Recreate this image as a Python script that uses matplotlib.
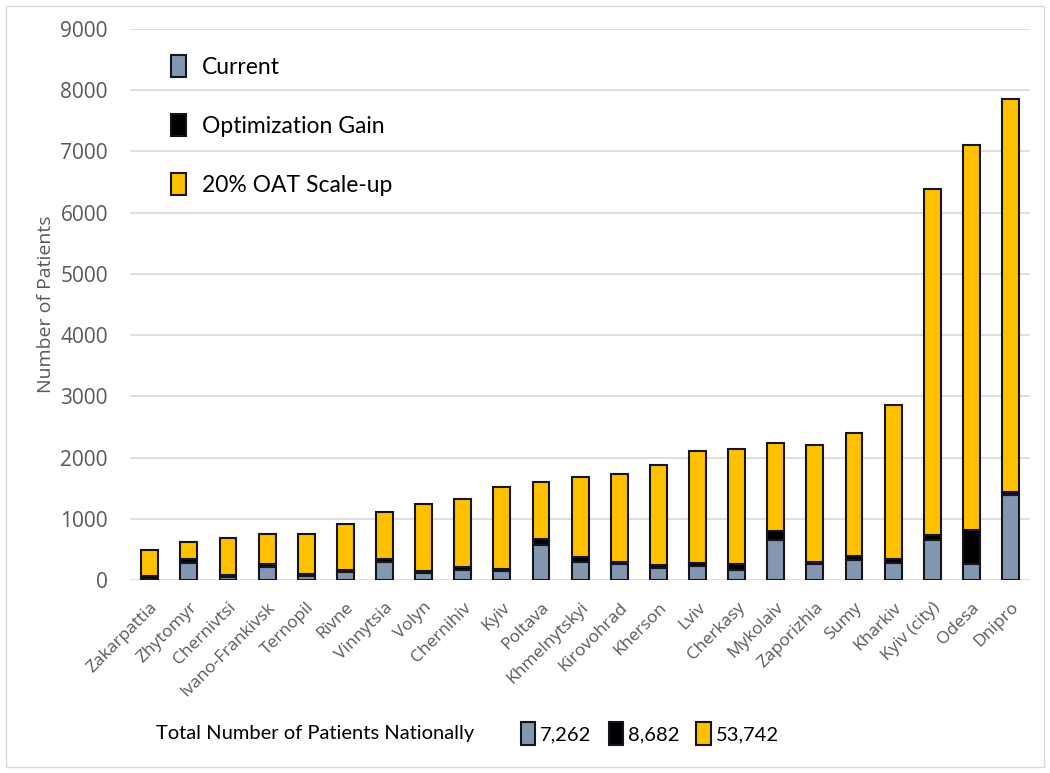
import matplotlib
matplotlib.use("Agg")
import numpy as np
import matplotlib.pyplot as plt
from matplotlib.patches import Patch, Rectangle

plt.rcParams['font.family'] = ['Open Sans', 'DejaVu Sans']

regions = ["Zakarpattia", "Zhytomyr", "Chernivtsi", "Ivano-Frankivsk", "Ternopil",
           "Rivne", "Vinnytsia", "Volyn", "Chernihiv", "Kyiv", "Poltava",
           "Khmelnytskyi", "Kirovohrad", "Kherson", "Lviv", "Cherkasy", "Mykolaiv",
           "Zaporizhia", "Sumy", "Kharkiv", "Kyiv (city)", "Odesa", "Dnipro"]
current = [20, 280, 45, 215, 65, 130, 290, 120, 165, 150, 575, 300, 265, 200,
           235, 155, 650, 265, 320, 280, 650, 260, 1380]
gain = [40, 70, 35, 45, 40, 25, 45, 30, 40, 25, 100, 70, 35, 45, 40, 100, 150,
        35, 75, 55, 85, 555, 50]
scaleup = [430, 270, 600, 485, 645, 765, 775, 1090, 1120, 1345, 925, 1320, 1435,
           1625, 1825, 1890, 1435, 1900, 2005, 2525, 5655, 6295, 6420]
series_names = ["Current", "Optimization Gain", "20% OAT Scale-up"]
national_totals = ["7,262", "8,682", "53,742"]

colors = ["#8497B0", "#000000", "#FFC000"]
grey = "#595959"
edge = "#15151f"

fig = plt.figure(figsize=(10.5, 7.73), dpi=100)
ax = fig.add_axes([0.124, 0.2497, 0.857, 0.7128])

x = np.arange(len(regions))
cur = np.array(current)
gn = np.array(gain)
sc = np.array(scaleup)
w = 0.43
ax.bar(x, cur, w, color=colors[0], edgecolor=edge, linewidth=1.5, zorder=3)
ax.bar(x, gn, w, bottom=cur, color=colors[1], edgecolor=edge, linewidth=1.5, zorder=3)
ax.bar(x, sc, w, bottom=cur + gn, color=colors[2], edgecolor=edge, linewidth=1.5, zorder=3)

ax.set_xlim(-0.5, len(regions) - 0.5)
ax.set_ylim(0, 9000)
ax.set_yticks(np.arange(0, 9001, 1000))
ax.yaxis.grid(True, color="#D9D9D9", linewidth=1.2, zorder=0)
ax.set_axisbelow(True)
for s in ax.spines.values():
    s.set_visible(False)
ax.tick_params(axis="both", length=0)
ax.tick_params(axis="y", labelsize=15, labelcolor=grey, pad=16)
ax.set_xticks(x)
ax.set_xticklabels(regions, rotation=45, ha="right", rotation_mode="anchor",
                   fontsize=12.5, color=grey)
ax.tick_params(axis="x", pad=14)
ax.set_ylabel("Number of Patients", fontsize=14, color=grey, labelpad=4)

handles = [Patch(facecolor=c, edgecolor=edge, linewidth=1.5) for c in colors]
ax.legend(handles, series_names, loc="upper left", bbox_to_anchor=(0.022, 0.99),
          frameon=False, prop={"family": "Lato", "size": 16.5}, labelspacing=1.58,
          handlelength=0.65, handleheight=1.1, handletextpad=0.7)

fig.text(0.149, 0.051, "Total Number of Patients Nationally", fontsize=14.5,
         family="Lato", color="black", va="center")
fig.legend(handles, national_totals, loc="center left", bbox_to_anchor=(0.479, 0.051),
           ncol=3, frameon=False, prop={"family": "Lato", "size": 14.5},
           handlelength=0.7, handleheight=1.35, handletextpad=0.25, columnspacing=0.85)

fig.add_artist(Rectangle((0.006, 0.008), 0.988, 0.984, transform=fig.transFigure,
                         fill=False, edgecolor="#D9D9D9", linewidth=1.0))

fig.savefig("out.png", dpi=100)
